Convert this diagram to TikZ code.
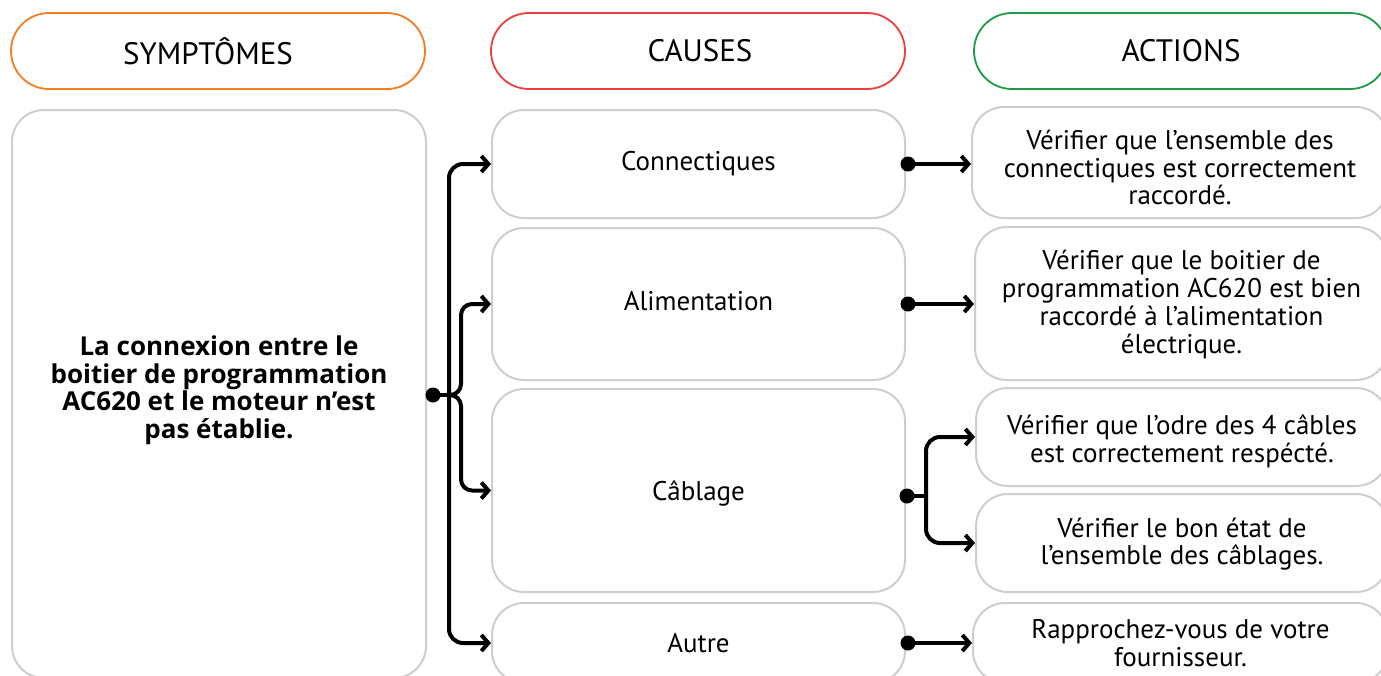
\documentclass[tikz,border=0pt]{standalone}
\usepackage{fontspec}
\setmainfont{PT Sans}
\newfontfamily\symfont{Open Sans}
\usetikzlibrary{arrows.meta}
\definecolor{hdrorange}{HTML}{F57C22}
\definecolor{hdrred}{HTML}{EE3D3D}
\definecolor{hdrgreen}{HTML}{1D9A48}
\definecolor{boxgray}{HTML}{CDCDD2}
\begin{document}
\begin{tikzpicture}[x=1pt,y=-1pt,
  hdr/.style={draw, line width=1.8pt, rounded corners=38pt, minimum width=414pt, minimum height=76pt, inner sep=0pt},
  hdrtxt/.style={font=\fontsize{31}{34}\selectfont, inner sep=0pt},
  box/.style={draw=boxgray, line width=2pt, rounded corners=32pt, minimum width=413pt, inner sep=0pt, align=center},
  causetxt/.style={font=\fontsize{27}{30}\selectfont, inner sep=0pt},
  acttxt/.style={font=\fontsize{27}{27.7}\selectfont, align=center, inner sep=0pt},
  conn/.style={line width=4pt, line cap=round, line join=round},
  arr/.style={conn, -{Straight Barb[length=7pt,width=16pt]}},
  dotn/.style={circle, fill=black, inner sep=0pt, minimum size=15pt}
]
\useasboundingbox (0,0) rectangle (1381,675);
\clip (0,0) rectangle (1381,675);
\fill[white] (0,0) rectangle (1381,675);

% headers
\node[hdr, draw=hdrorange] (hS) at (218,51) {};
\node[hdr, draw=hdrred] (hC) at (698,51) {};
\node[hdr, draw=hdrgreen] (hA) at (1181,51) {};
\node[hdrtxt] (hSt) at ([xshift=-10pt]hS.center) {SYMPTÔMES};
\node[hdrtxt] (hCt) at ([xshift=2pt]hC.center) {CAUSES};
\node[hdrtxt] (hAt) at (hA.center) {ACTIONS};

% symptom
\node[box, minimum width=414pt, minimum height=568pt] (sym) at (219,394) {};
\node[align=center, font=\symfont\bfseries\fontsize{26}{27.5}\selectfont] (symtxt) at (219,390)
  {La connexion entre le\\boitier de programmation\\AC620 et le moteur n’est\\pas établie.};

% causes
\node[box, minimum height=108pt] (c1) at (698.5,164) {};
\node[box, minimum height=152pt] (c2) at (698.5,304) {};
\node[box, minimum height=203pt] (c3) at (698.5,490.5) {};
\node[box, minimum height=80pt] (c4) at (698.5,643) {};
\node[causetxt] (c1t) at (c1.center) {Connectiques};
\node[causetxt] (c2t) at ([yshift=3pt]c2.center) {Alimentation};
\node[causetxt] (c3t) at ([yshift=-3pt]c3.center) {Câblage};
\node[causetxt] (c4t) at (c4.center) {Autre};

% actions
\node[box, minimum width=416pt, minimum height=111pt] (a1) at (1180,162.5) {};
\node[box, minimum width=413pt, minimum height=153pt] (a2) at (1181.5,303.5) {};
\node[box, minimum width=412pt, minimum height=98pt] (a3) at (1182,437) {};
\node[box, minimum width=412pt, minimum height=98pt] (a4) at (1182,543) {};
\node[box, minimum width=415pt, minimum height=80pt] (a5) at (1180.5,643) {};
\node[acttxt] (a1t) at ([yshift=-5pt]a1.center)
  {Vérifier que l’ensemble des\\connectiques est correctement\\raccordé.};
\node[acttxt] (a2t) at ([yshift=-1pt]a2.center)
  {Vérifier que le boitier de\\programmation AC620 est bien\\raccordé à l’alimentation\\électrique.};
\node[acttxt] (a3t) at ([yshift=-4pt]a3.center)
  {Vérifier que l’odre des 4 câbles\\est correctement respécté.};
\node[acttxt] (a4t) at ([yshift=-1pt]a4.center)
  {Vérifier le bon état de\\l’ensemble des câblages.};
\node[acttxt] (a5t) at (a5.center)
  {Rapprochez-vous de votre\\fournisseur.};

% left connector
\node[dotn] (d0) at (433,395) {};
\coordinate (j0) at (449,395);
\coordinate (k0) at (461,395);
\draw[conn] (d0.center) -- (j0);
\draw[arr, rounded corners=14pt] (j0) |- (c1.west);
\draw[arr, rounded corners=14pt] (j0) |- (c4.west);
\draw[arr, rounded corners=11pt] (j0) -- (k0) |- (c2.west);
\draw[arr, rounded corners=11pt] (j0) -- (k0) |- (c3.west);

% right connectors
\node[dotn] (d1) at ([xshift=2pt]c1.east) {};
\node[dotn] (d2) at ([xshift=2pt]c2.east) {};
\node[dotn] (d3) at (907,496) {};
\node[dotn] (d4) at ([xshift=2pt]c4.east) {};
\draw[arr] (d1.center) -- (d1.center -| a1.west);
\draw[arr] (d2.center) -- (d2.center -| a2.west);
\draw[arr] (d4.center) -- (d4.center -| a5.west);
\coordinate (j3) at (926,496);
\draw[conn] (d3.center) -- (j3);
\draw[arr, rounded corners=14pt] (j3) |- (a3.west);
\draw[arr, rounded corners=14pt] (j3) |- (a4.west);
\end{tikzpicture}
\end{document}
